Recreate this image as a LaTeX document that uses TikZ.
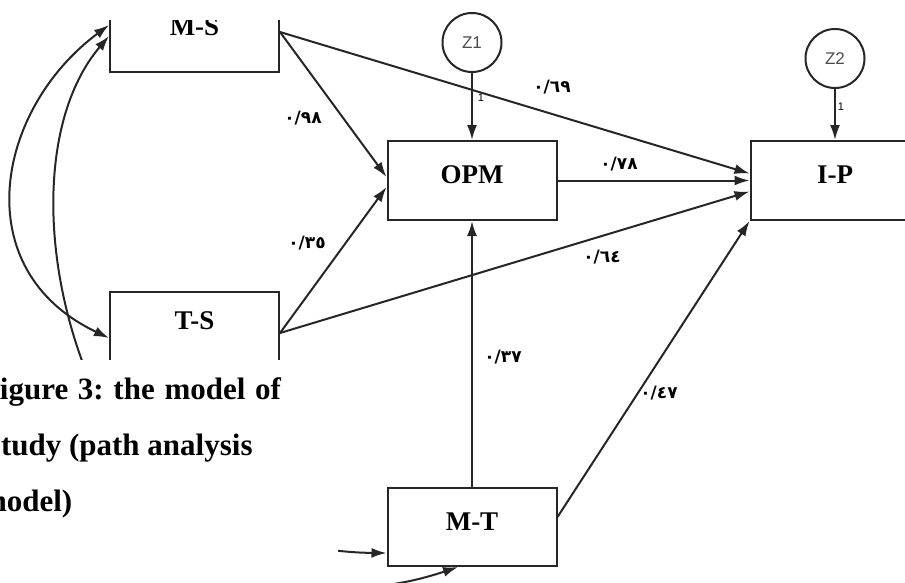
\documentclass[tikz,border=0pt]{standalone}
\usepackage{fontspec}
\setmainfont{Liberation Serif}
\newfontfamily\latinsans{Liberation Sans}
\newfontfamily\arabicfont{DejaVu Sans}
\usetikzlibrary{positioning, arrows.meta}

\begin{document}
\begin{tikzpicture}[x=1pt, y=-1pt, line width=2pt, every node/.style={inner sep=0pt},
  var/.style={draw=black!85, rectangle, minimum width=169pt, minimum height=79pt, text height=18pt, text depth=12pt, font=\fontsize{27}{30}\selectfont\bfseries},
  err/.style={draw=black!85, circle, minimum size=59pt, text=black!70, font=\latinsans\fontsize{17}{19}\selectfont},
  coef/.style={inner sep=1pt, font=\arabicfont\bfseries\fontsize{17}{19}\selectfont},
  one/.style={inner sep=1pt, font=\latinsans\fontsize{11}{12}\selectfont},
  effect/.style={draw=black!85, -{Latex[length=15pt, width=10pt]}},
  corr/.style={draw=black!85, {Latex[length=15pt, width=10pt]}-{Latex[length=15pt, width=10pt]}},
  caption/.style={align=left, font=\fontsize{31}{56}\selectfont\bfseries\frenchspacing}]

  \useasboundingbox (0,0) rectangle (905,582);
  \clip (0,0) rectangle (905,582);

  % Nodes
  \node[var] (opm) at (472,180.5) {OPM};
  \node[var, right=192pt of opm] (ip) {I-P};
  \node[var, below=266pt of opm, minimum height=78pt] (mt) {M-T};
  \node[var] (ms) at (194.5,32) {M-S};
  \node[var, minimum height=82pt, text depth=26pt] (ts) at (194.5,333) {T-S};
  \node[err, above=67pt of opm] (z1) {Z1};
  \node[err, above=51pt of ip] (z2) {Z2};

  % Arrows
  \draw[effect] (ms.east) -- ([yshift=3.5pt]opm.west);
  \draw[effect] (ms.east) -- ([yshift=7pt]ip.west);
  \draw[effect] (ts.east) -- ([yshift=-6.5pt]opm.west);
  \draw[effect] (ts.east) -- ([yshift=-11pt]ip.west);
  \draw[effect] (opm) -- (ip);
  \draw[effect] (mt) -- (opm);
  \draw[effect] ([yshift=10pt]mt.east) -- (ip.south west);
  \draw[effect] (z1) -- (opm);
  \draw[effect] (z2) -- (ip);

  % Covariances
  \draw[corr] ([yshift=7pt]ms.west) .. controls (-5,110) and (-34,270) .. ([yshift=-5pt]ts.west);
  \draw[corr] ([yshift=-4pt]ms.west) .. controls (-30,200) and (120,680) .. ([xshift=-14pt]mt.south);
  \draw[corr] ([yshift=-32pt]ts.west) .. controls (60,470) and (250,552) .. ([yshift=-26pt]mt.west);

  % Labels
  \node[coef] (c98) at (303,118) {٠/٩٨};
  \node[coef] (c69) at (552,87) {٠/٦٩};
  \node[coef] (c35) at (307,243) {٠/٣٥};
  \node[coef] (c78) at (619,164) {٠/٧٨};
  \node[coef] (c64) at (602,257) {٠/٦٤};
  \node[coef] (c37) at (503,357) {٠/٣٧};
  \node[coef] (c47) at (659,393) {٠/٤٧};
  \node[one] (one1) at (481,98) {1};
  \node[one] (one2) at (841,107) {1};

  % cropped edges and caption
  \fill[white] (0,0) rectangle (420,20);
  \fill[white] (0,360) rectangle (338,583);
  \node[caption, anchor=north west] (cap) at (-20,377) {\makebox[300pt][s]{Figure 3: the model of}\\\hspace*{8pt}study (path analysis\\model)};

\end{tikzpicture}
\end{document}
